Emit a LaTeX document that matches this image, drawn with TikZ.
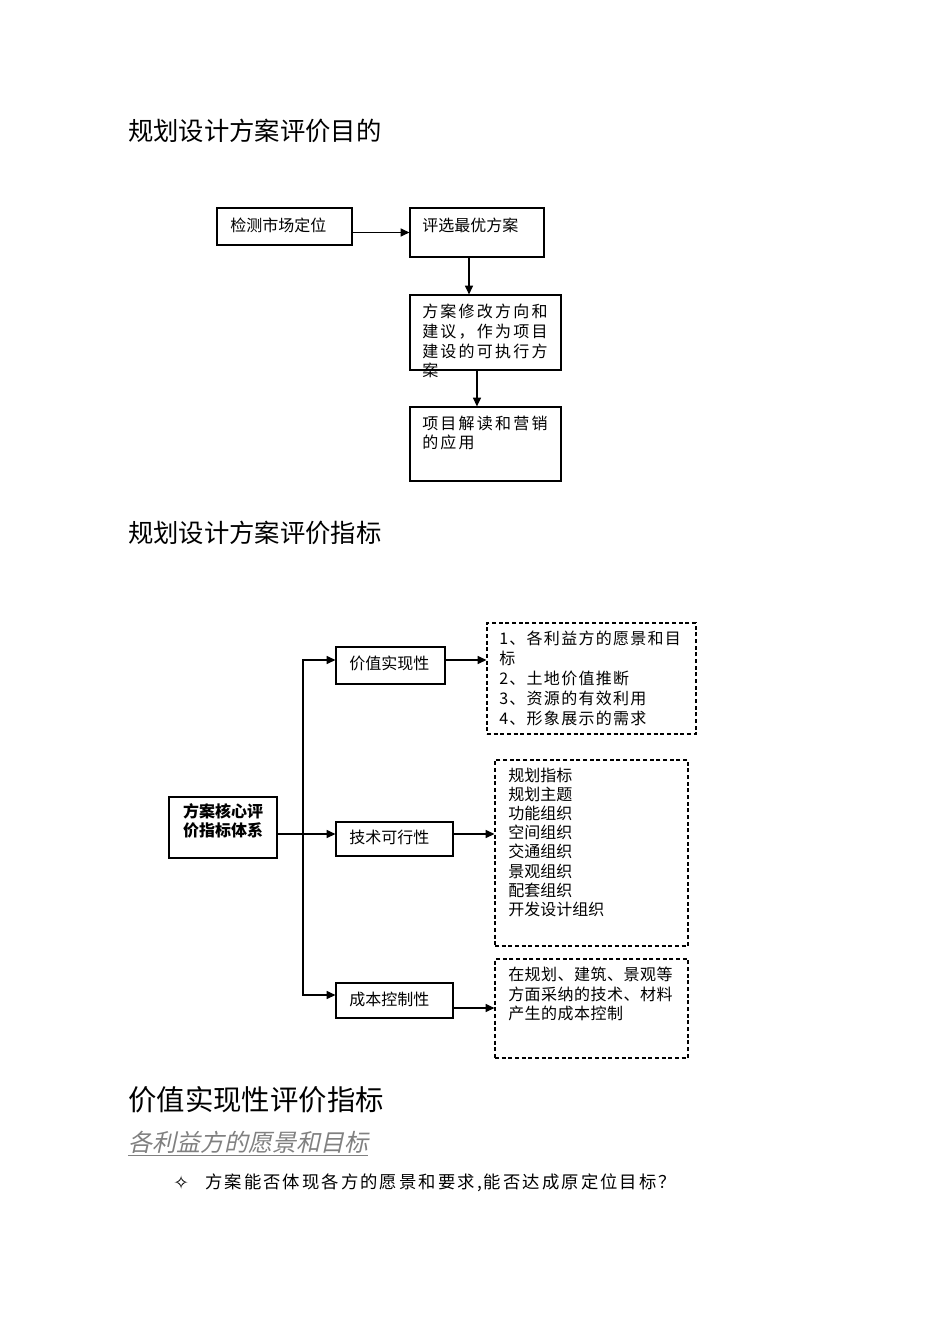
\documentclass[tikz,border=0pt]{standalone}
\usepackage{fontspec}
\setmainfont{Noto Sans CJK SC}
\newfontfamily\symfont{DejaVu Sans}
\newfontfamily\slantfont[FakeSlant=0.22]{Noto Sans CJK SC}
\usetikzlibrary{positioning}
\usetikzlibrary{fit}
\usetikzlibrary{arrows.meta}

\tikzset{
  box/.style={draw, line width=0.9pt, inner sep=0pt},
  dbox/.style={box, dash pattern=on 3pt off 2pt},
  txt/.style={anchor=north west, inner sep=0pt, align=left,
    font=\fontsize{12}{14.6}\selectfont},
  head/.style={anchor=west, inner sep=0pt, font=\fontsize{19}{23}\selectfont},
  arr/.style={-{Triangle[length=6.5pt,width=6pt]}, line width=0.9pt},
}

\begin{document}
\begin{tikzpicture}[x=0.75pt, y=-0.75pt]
\useasboundingbox (0,0) rectangle (950,1344);

\node[head] (aimhead) at (128,131) {规划设计方案评价目的};
\node[head] (idxhead) at (128,533) {规划设计方案评价指标};

% purpose flow
\node[box, fit={(217,208) (352,245)}] (mkt) {};
\node[txt] (mkttxt) at (230,218) {检测市场定位};
\node[box, fit={(410,208) (544,257)}] (best) {};
\node[txt] (besttxt) at (422,218) {评选最优方案};
\node[box, fit={(410,295) (561,370)}] (plan) {};
\node[txt, font=\fontsize{12}{14.7}\selectfont\addfontfeature{LetterSpace=14}] (plantxt) at (422,304)
  {方案修改方向和\\建议，作为项目\\建设的可执行方\\案};
\node[box, fit={(410,407) (561,481)}] (use) {};
\node[txt, font=\fontsize{12}{14.4}\selectfont\addfontfeature{LetterSpace=14}] (usetxt) at (422,416)
  {项目解读和营销\\的应用};

\coordinate (bestout) at ([xshift=-6pt]best.south);
\coordinate (planout) at ([xshift=-6.4pt]plan.south);
\draw[arr] (mkt.east |- best.west) -- (best.west);
\draw[arr] (bestout) -- (bestout |- plan.north);
\draw[arr] (planout) -- (planout |- use.north);

% index tree
\node[box, fit={(169,797) (277,858)}, align=center,
  font=\fontsize{12}{14.4}\selectfont\bfseries] (core) {方案核心评\\价指标体系};

\node[box, fit={(336,647) (445,684)}] (val) {};
\node[txt] (valtxt) at (349,656) {价值实现性};
\node[box, fit={(336,822) (453,856)}] (tech) {};
\node[txt] (techtxt) at (349,830) {技术可行性};
\node[box, fit={(336,983) (453,1018)}] (cost) {};
\node[txt] (costtxt) at (349,992) {成本控制性};

\node[dbox, fit={(487,623) (696,734)}] (dval) {};
\node[txt, font=\fontsize{12}{15}\selectfont\addfontfeature{LetterSpace=8}] (dvaltxt) at (499,631)
  {1、各利益方的愿景和目\\标\\2、土地价值推断\\3、资源的有效利用\\4、形象展示的需求};
\node[dbox, fit={(495,760) (688,946)}] (dtech) {};
\node[txt, font=\fontsize{12}{14.3}\selectfont] (dtechtxt) at (508,768)
  {规划指标\\规划主题\\功能组织\\空间组织\\交通组织\\景观组织\\配套组织\\开发设计组织};
\node[dbox, fit={(495,959) (688,1058)}] (dcost) {};
\node[txt, font=\fontsize{12}{14.6}\selectfont\addfontfeature{LetterSpace=3}] (dcosttxt) at (508,967)
  {在规划、建筑、景观等\\方面采纳的技术、材料\\产生的成本控制};

\coordinate (jv) at (303,660);
\coordinate (jt) at (303,834);
\coordinate (jc) at (303,995);
\coordinate (jo) at (453,1008);
\draw[arr] (jt) -- (jv) -- (val.west |- jv);
\draw[arr] (jt) -- (jc) -- (cost.west |- jc);
\draw[arr] (core.east |- jt) -- (tech.west |- jt);
\draw[arr] (val.east |- jv) -- (dval.west |- jv);
\draw[arr] (tech.east |- jt) -- (dtech.west |- jt);
\draw[arr] (cost.east |- jo) -- (dcost.west |- jo);

\node[head, font=\fontsize{21.3}{25}\selectfont] (valhead) at (128,1100) {价值实现性评价指标};
\node[head, text=black!50, font=\fontsize{18}{22}\selectfont\slantfont] (subhead) at (128,1144)
  {\underline{各利益方的愿景和目标}};
\node[anchor=west, inner sep=0pt, font=\fontsize{14}{16}\selectfont\symfont] (bullet) at (173,1183) {✧};
\node[anchor=west, inner sep=0pt, font=\fontsize{13}{16}\selectfont\addfontfeature{LetterSpace=12}] (question) at (205,1183)
  {方案能否体现各方的愿景和要求,能否达成原定位目标？};
\end{tikzpicture}
\end{document}
